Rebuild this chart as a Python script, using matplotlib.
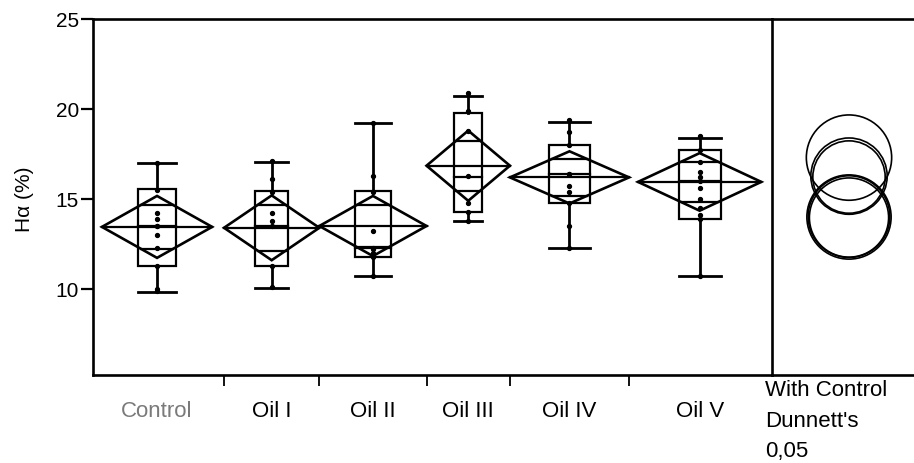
#!/usr/bin/env python

import numpy
import matplotlib
matplotlib.use('Agg')
import matplotlib.pyplot as plt
from matplotlib.patches import Rectangle, Polygon, Circle

plt.rcParams['font.family'] = ['Liberation Sans', 'DejaVu Sans']

groups = ['Control', 'Oil I', 'Oil II', 'Oil III', 'Oil IV', 'Oil V']
n_obs = [11, 8, 9, 7, 10, 12]

# means diamonds: group mean and half-height of the 95% interval
means = [13.45, 13.4, 13.5, 16.85, 16.2, 15.95]
ci_half = [1.72, 1.8, 1.67, 1.95, 1.45, 1.6]

# box plots
q1 = [11.3, 11.3, 11.8, 14.3, 14.8, 13.9]
medians = [13.5, 13.5, 12.3, 16.2, 16.4, 16.0]
q3 = [15.55, 15.45, 15.45, 19.8, 18.0, 17.7]
whisk_lo = [9.85, 10.05, 10.7, 13.8, 12.3, 10.7]
whisk_hi = [17.0, 17.05, 19.2, 20.75, 19.3, 18.4]

points = [
    [17.0, 15.5, 14.2, 13.9, 13.5, 13.5, 13.0, 12.3, 11.3, 10.0, 9.9],
    [17.1, 16.1, 15.4, 14.2, 13.8, 13.5, 11.3, 10.1],
    [19.2, 16.3, 15.4, 13.2, 12.3, 12.2, 12.0, 11.8, 10.7],
    [20.9, 19.9, 18.8, 16.3, 14.8, 14.3, 13.8],
    [19.4, 18.7, 18.0, 16.4, 16.4, 15.7, 15.4, 14.8, 13.5, 12.3],
    [18.5, 17.7, 17.05, 16.5, 16.2, 16.0, 15.6, 15.0, 14.5, 14.1, 13.9, 10.7],
]

# Dunnett's comparison circles (with control)
circle_centers = [14.0, 13.97, 14.02, 17.3, 16.27, 16.22]
circle_radii = [2.34, 2.2, 2.27, 2.37, 2.12, 2.01]

label_colors = ['#7a7a7a', 'black', 'black', 'black', 'black', 'black']

W, H = 914, 464
ax_l, ax_r, ax_t, ax_b = 93, 772, 20, 376
y_top = 25.0
px_per_unit = 18.0
y_bot = y_top - (ax_b - ax_t) / px_per_unit

inset_l = [0.75, 0, 0, 0, 0, 0.75]
inset_r = [1.0, 0, 0, 0, 0, 0.9]
lw = 1.6

fig = plt.figure(figsize=(W / 100.0, H / 100.0), dpi=100)
ax = fig.add_axes([ax_l / W, 1 - ax_b / H, (ax_r - ax_l) / W, (ax_b - ax_t) / H])
ax2 = fig.add_axes([ax_r / W, 1 - ax_b / H, (W - ax_r) / W, (ax_b - ax_t) / H])

bounds = numpy.concatenate([[0], numpy.cumsum(n_obs)])
ax.set_xlim(0, bounds[-1])
ax.set_ylim(y_bot, y_top)

centers = []
for i in range(len(groups)):
    left = bounds[i] + inset_l[i]
    right = bounds[i + 1] - inset_r[i]
    c = 0.5 * (left + right)
    centers.append(c)
    half_w = 0.5 * (right - left)
    bw = 0.34 * (right - left)
    m, h = means[i], ci_half[i]
    # box and whiskers
    ax.add_patch(Rectangle((c - bw / 2, q1[i]), bw, q3[i] - q1[i],
                           fill=False, edgecolor='black', linewidth=lw))
    ax.plot([c - bw / 2, c + bw / 2], [medians[i]] * 2, color='black', lw=lw)
    ax.plot([c, c], [q3[i], whisk_hi[i]], color='black', lw=lw + 0.4)
    ax.plot([c, c], [q1[i], whisk_lo[i]], color='black', lw=lw + 0.4)
    ax.plot([c - bw / 2, c + bw / 2], [whisk_hi[i]] * 2, color='black', lw=lw + 0.4)
    ax.plot([c - bw / 2, c + bw / 2], [whisk_lo[i]] * 2, color='black', lw=lw + 0.4)
    # means diamond with overlap marks
    ax.add_patch(Polygon([(left, m), (c, m + h), (right, m), (c, m - h)],
                         closed=True, fill=False, edgecolor='black', linewidth=lw + 0.3))
    ax.plot([left, right], [m, m], color='black', lw=lw)
    ow = half_w * (1 - 1 / numpy.sqrt(2))
    for s in (1, -1):
        ax.plot([c - ow, c + ow], [m + s * h / numpy.sqrt(2)] * 2, color='black', lw=lw)
    ax.plot([c] * len(points[i]), points[i], 'o', color='black', ms=2.8, zorder=5)

# axes frame
for side in ('left', 'bottom', 'top'):
    ax.spines[side].set_linewidth(lw + 0.3)
ax.spines['right'].set_visible(False)
ax.set_yticks([10, 15, 20, 25])
ax.tick_params(axis='y', direction='out', length=9, width=lw, pad=1, labelsize=15)
ax.set_xticks(bounds[1:-1])
ax.set_xticklabels([])
ax.tick_params(axis='x', which='major', direction='out', length=8, width=1.3)
ax.set_xticks(centers, minor=True)
ax.set_xticklabels(groups, minor=True, fontsize=16)
ax.tick_params(axis='x', which='minor', length=0, pad=18)
for lab, col in zip(ax.get_xticklabels(minor=True), label_colors):
    lab.set_color(col)

fig.text(24 / W, 1 - 199 / H, 'H\u03b1 (%)', rotation=90, fontsize=15,
         ha='center', va='center')

# comparison circles panel
ax2.set_ylim(y_bot, y_top)
ax2.set_xlim(0, (W - ax_r) / px_per_unit)
cx = (849 - ax_r) / px_per_unit
for yc, r in zip(circle_centers, circle_radii):
    ax2.add_patch(Circle((cx, yc), r, fill=False, edgecolor='black', linewidth=1.2))
ax2.set_xticks([])
ax2.set_yticks([])
ax2.spines['right'].set_visible(False)
for side in ('left', 'bottom', 'top'):
    ax2.spines[side].set_linewidth(lw + 0.3)

fig.text(765 / W, 1 - 380 / H, "With Control\nDunnett's\n0,05", fontsize=16,
         ha='left', va='top', linespacing=1.6)

fig.savefig('out.png', dpi=100)
plt.close(fig)
